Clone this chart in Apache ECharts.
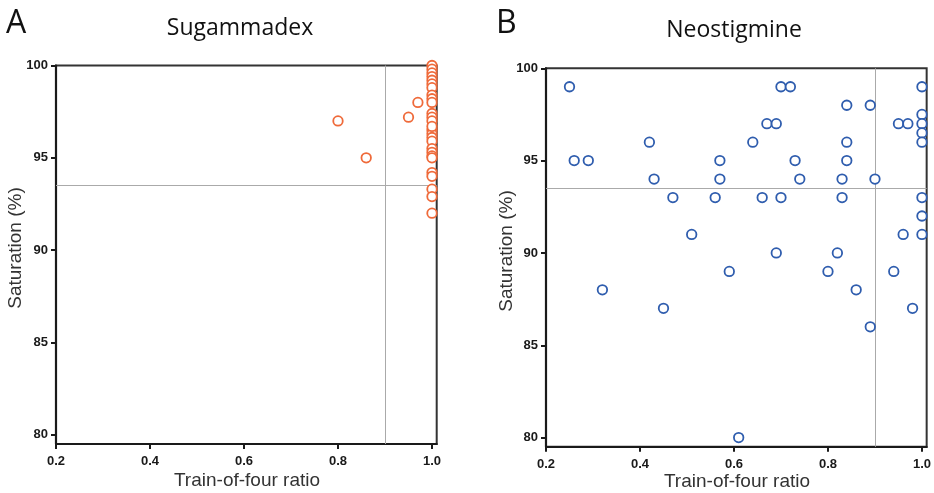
<!DOCTYPE html>
<html>
<head>
<meta charset="utf-8">
<script src="https://cdn.jsdelivr.net/npm/echarts@6/dist/echarts.min.js"></script>
<style>
  html, body { margin: 0; padding: 0; background: #fff; }
  #chart { width: 934px; height: 493px; }
</style>
</head>
<body>
<div id="chart"></div>
<script>
// Sugammadex: train-of-four ratio vs oxygen saturation
const sugammadexTof = [0.80, 0.86, 0.95, 0.97,
  1.0, 1.0, 1.0, 1.0, 1.0, 1.0, 1.0, 1.0, 1.0, 1.0, 1.0, 1.0, 1.0,
  1.0, 1.0, 1.0, 1.0, 1.0, 1.0, 1.0, 1.0, 1.0, 1.0, 1.0, 1.0, 1.0, 1.0];
const sugammadexSat = [97, 95, 97.2, 98,
  100, 99.8, 99.6, 99.4, 99.2, 99.0, 98.8, 98.4, 98.2, 98.0, 97.4, 97.2, 97.0,
  96.5, 96.3, 96.1, 95.9, 95.5, 95.3, 95.1, 95.0, 94.2, 94.0, 93.3, 92.9, 92.0, 96.7];

// Neostigmine: train-of-four ratio vs oxygen saturation
const neostigmineTof = [0.25, 0.26, 0.29, 0.32, 0.42, 0.43, 0.45, 0.47, 0.51, 0.56,
  0.57, 0.57, 0.59, 0.61, 0.64, 0.66, 0.67, 0.69, 0.69, 0.70,
  0.70, 0.72, 0.73, 0.74, 0.80, 0.82, 0.83, 0.83, 0.84, 0.84,
  0.84, 0.86, 0.89, 0.89, 0.90, 0.94, 0.95, 0.96, 0.97, 0.98,
  1.0, 1.0, 1.0, 1.0, 1.0, 1.0, 1.0, 1.0];
const neostigmineSat = [99, 95, 95, 88, 96, 94, 87, 93, 91, 93,
  95, 94, 89, 80, 96, 93, 97, 97, 90, 99,
  93, 99, 95, 94, 89, 90, 93, 94, 95, 96,
  98, 88, 98, 86, 94, 89, 97, 91, 97, 87,
  99, 97.5, 97, 96.5, 96, 93, 92, 91];

// Axis ticks and cut-off lines
const xTicks = [0.2, 0.4, 0.6, 0.8, 1.0];
const yTicks = [80, 85, 90, 95, 100];
const tofCutoff = 0.9;
const satCutoff = 93.5;

const zip = (xs, ys) => xs.map((x, i) => [x, ys[i]]);

const tickFont = { fontFamily: 'Liberation Sans', fontWeight: 'bold', fontSize: 13, color: '#1a1a1a' };
const titleFont = { fontFamily: 'Open Sans', fontSize: 23, fill: '#111' };
const letterFont = { fontFamily: 'Open Sans', fontSize: 32, fill: '#111' };
const axisNameFont = { fontFamily: 'Liberation Sans', fontSize: 19, fill: '#333' };

function xAxisFor(gridIndex) {
  return {
    gridIndex, type: 'value', min: 0.2, max: 1.01,
    axisLine: { show: true, lineStyle: { color: '#1a1a1a', width: 2.2 } },
    axisTick: { show: true, inside: false, length: 5, customValues: xTicks, lineStyle: { color: '#1a1a1a', width: 2 } },
    axisLabel: { ...tickFont, margin: 11, customValues: xTicks, formatter: v => v.toFixed(1) },
    splitLine: { show: false }
  };
}
function yAxisFor(gridIndex) {
  return {
    gridIndex, type: 'value', min: 79.5, max: 100,
    axisLine: { show: true, lineStyle: { color: '#1a1a1a', width: 2.2 } },
    axisTick: { show: true, inside: false, length: 5, customValues: yTicks, lineStyle: { color: '#1a1a1a', width: 2 } },
    axisLabel: { ...tickFont, margin: 8, customValues: yTicks, formatter: v => String(v) },
    splitLine: { show: false }
  };
}
function cutoffLines() {
  return {
    silent: true, symbol: 'none', animation: false,
    label: { show: false },
    lineStyle: { color: '#aaa', width: 1, type: 'solid' },
    data: [{ xAxis: tofCutoff }, { yAxis: satCutoff }]
  };
}
function scatterFor(idx, data, color) {
  return {
    type: 'scatter', xAxisIndex: idx, yAxisIndex: idx, data,
    symbol: 'circle', symbolSize: 9.5, clip: false, z: 5,
    itemStyle: { color: '#fff', borderColor: color, borderWidth: 1.8, opacity: 1 },
    markLine: cutoffLines()
  };
}

const chart = echarts.init(document.getElementById('chart'), null, { renderer: 'canvas' });
chart.setOption({
  backgroundColor: '#fff',
  animation: false,
  grid: [
    { left: 56, top: 65.5, width: 380.7, height: 378.5, show: true, borderColor: '#333', borderWidth: 2, backgroundColor: 'transparent' },
    { left: 546, top: 68.3, width: 380.7, height: 378.5, show: true, borderColor: '#333', borderWidth: 2, backgroundColor: 'transparent' }
  ],
  xAxis: [xAxisFor(0), xAxisFor(1)],
  yAxis: [yAxisFor(0), yAxisFor(1)],
  series: [
    scatterFor(0, zip(sugammadexTof, sugammadexSat), '#EF6A3A'),
    scatterFor(1, zip(neostigmineTof, neostigmineSat), '#2F5DAE')
  ],
  graphic: [
    { type: 'text', left: 6, top: 8, style: { text: 'A', ...letterFont } },
    { type: 'text', left: 496, top: 8, style: { text: 'B', ...letterFont } },
    { type: 'text', x: 240, y: 28, style: { text: 'Sugammadex', ...titleFont, align: 'center', verticalAlign: 'middle' } },
    { type: 'text', x: 734, y: 30, style: { text: 'Neostigmine', ...titleFont, align: 'center', verticalAlign: 'middle' } },
    { type: 'text', x: 16, y: 248, rotation: Math.PI / 2, style: { text: 'Saturation (%)', ...axisNameFont, align: 'center', verticalAlign: 'middle' } },
    { type: 'text', x: 507, y: 251, rotation: Math.PI / 2, style: { text: 'Saturation (%)', ...axisNameFont, align: 'center', verticalAlign: 'middle' } },
    { type: 'text', x: 247, y: 481, style: { text: 'Train-of-four ratio', ...axisNameFont, align: 'center', verticalAlign: 'middle' } },
    { type: 'text', x: 737, y: 482, style: { text: 'Train-of-four ratio', ...axisNameFont, align: 'center', verticalAlign: 'middle' } }
  ]
});
</script>
</body>
</html>
